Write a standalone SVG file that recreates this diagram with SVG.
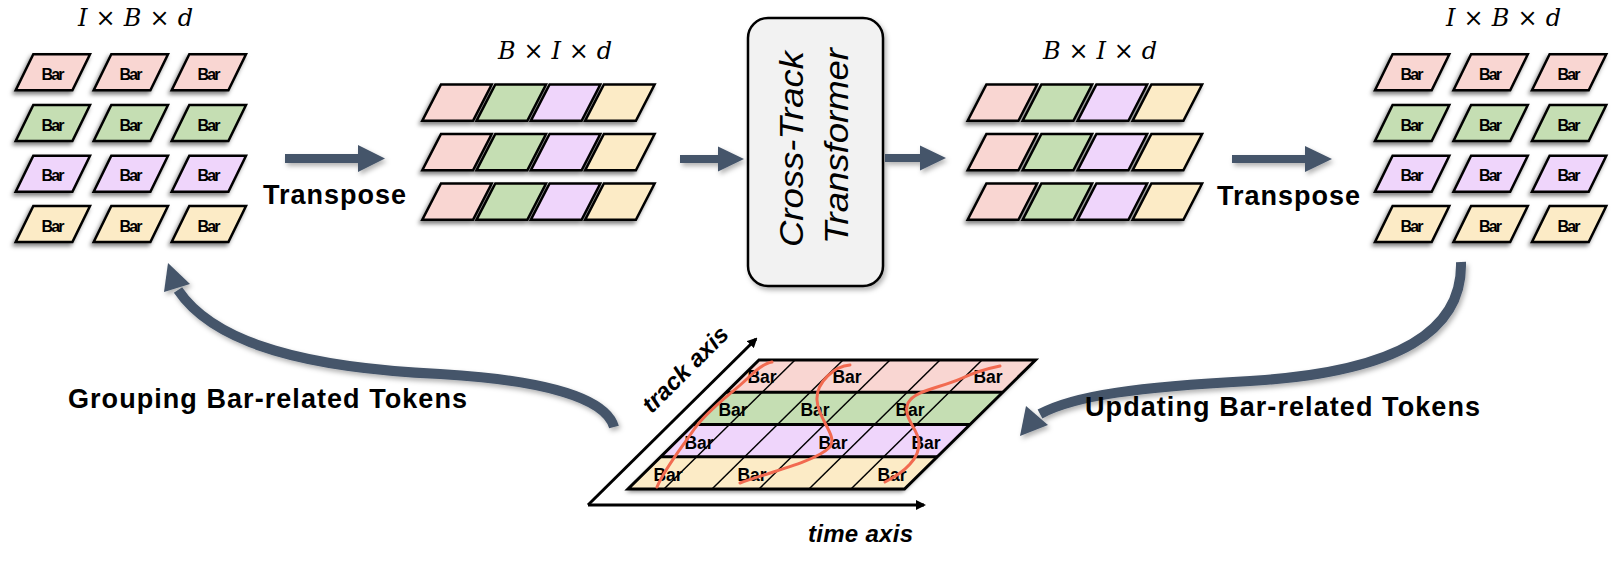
<svg xmlns="http://www.w3.org/2000/svg" xmlns:xlink="http://www.w3.org/1999/xlink" width="1612" height="565" viewBox="0 0 1612 565">
<style>
.pk{fill:#f9d6d2}.gn{fill:#c5deb3}.pu{fill:#efd5fb}.ye{fill:#fcebc6}
.cell{stroke:#000;stroke-width:2.5;stroke-linejoin:miter}
.bar{font-family:"Liberation Sans",Arial,sans-serif;font-weight:bold;font-size:16px;fill:#000;text-anchor:middle}
.bar2{font-family:"Liberation Sans",Arial,sans-serif;font-weight:bold;font-size:17.5px;fill:#000;text-anchor:middle}
.dim{font-family:"DejaVu Serif",serif;font-style:italic;font-size:24px;fill:#000}
.lbl{font-family:"Liberation Sans",Arial,sans-serif;font-weight:bold;font-size:27px;fill:#000}
.ax{font-family:"Liberation Sans",Arial,sans-serif;font-weight:bold;font-style:italic;font-size:24px;fill:#000}
.blk{fill:#44546a}
.curve{fill:none;stroke:#44546a;stroke-width:10}
.red{fill:none;stroke:#f26a50;stroke-width:3;stroke-linecap:round}
.thin{stroke:#000;stroke-width:1.5;fill:none}
</style>
<defs>
<filter id="sh" x="-30%" y="-30%" width="160%" height="160%">
<feDropShadow dx="-2" dy="3" stdDeviation="2.2" flood-color="#000" flood-opacity="0.5"/>
</filter>
<filter id="sh2" x="-20%" y="-20%" width="140%" height="140%">
<feDropShadow dx="2" dy="3" stdDeviation="2.5" flood-color="#000" flood-opacity="0.3"/>
</filter>
<path id="pa" class="cell" d="M17.6 0 H74.3 L56.7 36 H0 Z"/>
<path id="pb" class="cell" d="M18.7 0 H69.4 L50.7 36.3 H0 Z"/>
<marker id="ah" markerWidth="10" markerHeight="10" refX="8" refY="5" orient="auto" markerUnits="userSpaceOnUse" viewBox="0 0 10 10">
<path d="M0 0 L10 5 L0 10 Z" fill="#000"/>
</marker>
</defs>
<rect width="1612" height="565" fill="#fff"/>

<g id="grid-left">
<text class="dim" x="78" y="26" textLength="115">I × B × d</text>
<g filter="url(#sh)">
<use href="#pa" x="15.7" y="54.3" class="pk"/><use href="#pa" x="93.7" y="54.3" class="pk"/><use href="#pa" x="171.7" y="54.3" class="pk"/>
<use href="#pa" x="15.7" y="105" class="gn"/><use href="#pa" x="93.7" y="105" class="gn"/><use href="#pa" x="171.7" y="105" class="gn"/>
<use href="#pa" x="15.7" y="155.7" class="pu"/><use href="#pa" x="93.7" y="155.7" class="pu"/><use href="#pa" x="171.7" y="155.7" class="pu"/>
<use href="#pa" x="15.7" y="206" class="ye"/><use href="#pa" x="93.7" y="206" class="ye"/><use href="#pa" x="171.7" y="206" class="ye"/>
</g>
<g class="bar">
<text x="53" y="79.5" textLength="23">Bar</text><text x="131" y="79.5" textLength="23">Bar</text><text x="209" y="79.5" textLength="23">Bar</text>
<text x="53" y="130.5" textLength="23">Bar</text><text x="131" y="130.5" textLength="23">Bar</text><text x="209" y="130.5" textLength="23">Bar</text>
<text x="53" y="181" textLength="23">Bar</text><text x="131" y="181" textLength="23">Bar</text><text x="209" y="181" textLength="23">Bar</text>
<text x="53" y="231.5" textLength="23">Bar</text><text x="131" y="231.5" textLength="23">Bar</text><text x="209" y="231.5" textLength="23">Bar</text>
</g>
</g>

<g id="grid-mid-left">
<text class="dim" x="498" y="59" textLength="114">B × I × d</text>
<g filter="url(#sh)">
<use href="#pb" x="422.3" y="84.5" class="pk"/><use href="#pb" x="476.6" y="84.5" class="gn"/><use href="#pb" x="530.9" y="84.5" class="pu"/><use href="#pb" x="585.2" y="84.5" class="ye"/>
<use href="#pb" x="422.3" y="134" class="pk"/><use href="#pb" x="476.6" y="134" class="gn"/><use href="#pb" x="530.9" y="134" class="pu"/><use href="#pb" x="585.2" y="134" class="ye"/>
<use href="#pb" x="422.3" y="183.5" class="pk"/><use href="#pb" x="476.6" y="183.5" class="gn"/><use href="#pb" x="530.9" y="183.5" class="pu"/><use href="#pb" x="585.2" y="183.5" class="ye"/>
</g>
</g>

<g id="cross-track-transformer">
<rect x="748" y="18" width="135" height="268" rx="20" ry="20" fill="#f2f2f2" stroke="#000" stroke-width="2.5" filter="url(#sh2)"/>
<text transform="translate(803,149) rotate(-90)" text-anchor="middle" font-family="Liberation Sans, Arial, sans-serif" font-style="italic" font-size="33" textLength="196" lengthAdjust="spacingAndGlyphs">Cross-Track</text>
<text transform="translate(848,146) rotate(-90)" text-anchor="middle" font-family="Liberation Sans, Arial, sans-serif" font-style="italic" font-size="33" textLength="196" lengthAdjust="spacingAndGlyphs">Transformer</text>
</g>

<g id="grid-mid-right">
<text class="dim" x="1043" y="59" textLength="114">B × I × d</text>
<g filter="url(#sh)">
<use href="#pb" x="967.7" y="84.5" class="pk"/><use href="#pb" x="1022.7" y="84.5" class="gn"/><use href="#pb" x="1077.7" y="84.5" class="pu"/><use href="#pb" x="1132.7" y="84.5" class="ye"/>
<use href="#pb" x="967.7" y="134" class="pk"/><use href="#pb" x="1022.7" y="134" class="gn"/><use href="#pb" x="1077.7" y="134" class="pu"/><use href="#pb" x="1132.7" y="134" class="ye"/>
<use href="#pb" x="967.7" y="183.5" class="pk"/><use href="#pb" x="1022.7" y="183.5" class="gn"/><use href="#pb" x="1077.7" y="183.5" class="pu"/><use href="#pb" x="1132.7" y="183.5" class="ye"/>
</g>
</g>

<g id="grid-right">
<text class="dim" x="1446" y="26" textLength="115">I × B × d</text>
<g filter="url(#sh)">
<use href="#pa" x="1375" y="54.3" class="pk"/><use href="#pa" x="1453.5" y="54.3" class="pk"/><use href="#pa" x="1532" y="54.3" class="pk"/>
<use href="#pa" x="1375" y="105" class="gn"/><use href="#pa" x="1453.5" y="105" class="gn"/><use href="#pa" x="1532" y="105" class="gn"/>
<use href="#pa" x="1375" y="155.7" class="pu"/><use href="#pa" x="1453.5" y="155.7" class="pu"/><use href="#pa" x="1532" y="155.7" class="pu"/>
<use href="#pa" x="1375" y="206" class="ye"/><use href="#pa" x="1453.5" y="206" class="ye"/><use href="#pa" x="1532" y="206" class="ye"/>
</g>
<g class="bar">
<text x="1412" y="79.5" textLength="23">Bar</text><text x="1490.5" y="79.5" textLength="23">Bar</text><text x="1569" y="79.5" textLength="23">Bar</text>
<text x="1412" y="130.5" textLength="23">Bar</text><text x="1490.5" y="130.5" textLength="23">Bar</text><text x="1569" y="130.5" textLength="23">Bar</text>
<text x="1412" y="181" textLength="23">Bar</text><text x="1490.5" y="181" textLength="23">Bar</text><text x="1569" y="181" textLength="23">Bar</text>
<text x="1412" y="231.5" textLength="23">Bar</text><text x="1490.5" y="231.5" textLength="23">Bar</text><text x="1569" y="231.5" textLength="23">Bar</text>
</g>
</g>

<g id="bar-grid">
<g filter="url(#sh)">
<polygon class="pk" points="759,360 1035.5,360 1002.75,392.25 726.25,392.25"/>
<polygon class="gn" points="726.25,392.25 1002.75,392.25 970,424.5 693.5,424.5"/>
<polygon class="pu" points="693.5,424.5 970,424.5 937.25,456.75 660.75,456.75"/>
<polygon class="ye" points="660.75,456.75 937.25,456.75 904.5,489 628,489"/>
</g>
<g class="thin">
<line x1="664" y1="489" x2="795" y2="360"/>
<line x1="712" y1="489" x2="843" y2="360"/>
<line x1="759" y1="489" x2="890" y2="360"/>
<line x1="809" y1="489" x2="940" y2="360"/>
<line x1="851" y1="489" x2="982" y2="360"/>
</g>
<g fill="none" stroke="#000" stroke-width="3" stroke-linejoin="miter">
<polygon points="759,360 1035.5,360 904.5,489 628,489"/>
<line x1="726.25" y1="392.25" x2="1002.75" y2="392.25"/>
<line x1="693.5" y1="424.5" x2="970" y2="424.5"/>
<line x1="660.75" y1="456.75" x2="937.25" y2="456.75"/>
</g>
<g class="bar2">
<text x="762" y="383">Bar</text><text x="847" y="383">Bar</text><text x="988" y="383">Bar</text>
<text x="733" y="415.5">Bar</text><text x="815" y="415.5">Bar</text><text x="910" y="415.5">Bar</text>
<text x="699" y="448.5">Bar</text><text x="833" y="448.5">Bar</text><text x="926" y="448.5">Bar</text>
<text x="668" y="481">Bar</text><text x="752" y="481">Bar</text><text x="892" y="481">Bar</text>
</g>
<path class="red" d="M657 487 C665 468, 680 450, 695 428 C710 408, 730 395, 748 378 C758 368, 765 363, 772 362"/>
<path class="red" d="M740 483 C770 472, 815 462, 830 447 C838 435, 818 420, 817 400 C816 382, 835 366, 850 365"/>
<path class="red" d="M885 482 C905 472, 920 458, 919 442 C918 428, 902 418, 908 403 C915 390, 940 388, 960 379 C975 372, 990 368, 1000 366"/>
<g stroke="#000" stroke-width="3" fill="none">
<line x1="588" y1="505" x2="924" y2="505" marker-end="url(#ah)"/>
<line x1="588" y1="505" x2="756" y2="339" marker-end="url(#ah)"/>
</g>
<text class="ax" transform="translate(691,375) rotate(-45)" text-anchor="middle">track axis</text>
<text class="ax" x="808" y="542" textLength="105">time axis</text>
</g>

<g id="connectors" filter="url(#sh2)">
<polygon class="blk" points="285,154 358,154 358,145 385,158.5 358,172 358,163 285,163"/>
<polygon class="blk" points="680,155 718,155 718,146.5 744,159 718,171.5 718,163 680,163"/>
<polygon class="blk" points="885,154 920,154 920,145.5 946,158 920,170.5 920,162 885,162"/>
<polygon class="blk" points="1232,155 1305,155 1305,146 1332,159 1305,172 1305,163 1232,163"/>
<path class="curve" d="M614 427 C606 398, 545 380, 440 374 C310 368, 215 345, 178 290"/>
<polygon class="blk" points="168,263 190,284 164,292"/>
<path class="curve" d="M1461 262 C1463 330, 1400 372, 1250 381 C1140 387, 1075 395, 1040 414"/>
<polygon class="blk" points="1020,436 1048,425 1026,406"/>
</g>

<g id="labels">
<text class="lbl" x="263" y="204" textLength="143">Transpose</text>
<text class="lbl" x="1217" y="205" textLength="143">Transpose</text>
<text class="lbl" x="68" y="408" textLength="399">Grouping Bar-related Tokens</text>
<text class="lbl" x="1085" y="416" textLength="395">Updating Bar-related Tokens</text>
</g>
</svg>
